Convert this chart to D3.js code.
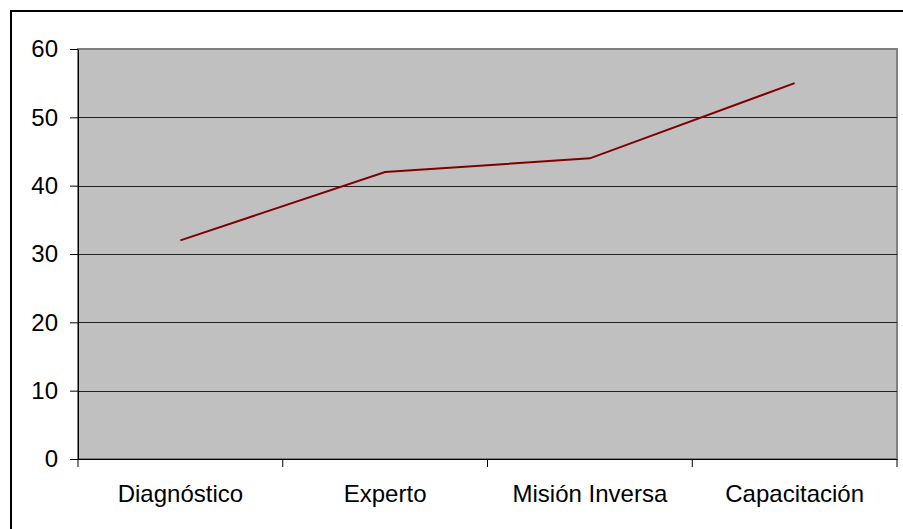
<!DOCTYPE html>
<html lang="es">
<head>
<meta charset="UTF-8">
<title>Chart</title>
<script src="https://d3js.org/d3.v7.min.js"></script>
<style>
    body { margin: 0; background: #fff; }
    svg { display: block; font-family: "Liberation Sans", Arial, sans-serif; }
    .axis text { fill: #000; font-size: 24px; }
    .axis path, .axis line { stroke: #000; }
</style>
</head>
<body>
<svg id="chart" width="903" height="529"></svg>
<script>
    const categories = ["Diagnóstico", "Experto", "Misión Inversa", "Capacitación"];
    const values = [32, 42, 44, 55];
    const yTicks = [0, 10, 20, 30, 40, 50, 60];

    const svg = d3.select("#chart");
    const margin = { top: 49, right: 6, bottom: 70, left: 78 };
    const width = 903 - margin.left - margin.right;
    const height = 529 - margin.top - margin.bottom;

    // outer chart border (right/bottom edges fall outside the window)
    svg.append("rect")
        .attr("x", 11).attr("y", 11)
        .attr("width", 900).attr("height", 530)
        .attr("fill", "#fff").attr("stroke", "#000").attr("stroke-width", 2);

    const g = svg.append("g").attr("transform", `translate(${margin.left},${margin.top})`);

    const x = d3.scaleBand().domain(categories).range([0, width]);
    const y = d3.scaleLinear().domain([0, 60]).range([height, 0]);

    g.append("rect")
        .attr("width", width).attr("height", height)
        .attr("fill", "#c0c0c0")
        .attr("stroke", "#808080").attr("stroke-width", 2);

    g.append("g")
        .selectAll("line")
        .data(yTicks.filter(d => d > 0 && d < 60))
        .join("line")
        .attr("x1", 0).attr("x2", width)
        .attr("y1", d => Math.round(y(d)) + 0.5).attr("y2", d => Math.round(y(d)) + 0.5)
        .attr("stroke", "#222").attr("stroke-width", 1);

    const yAxis = g.append("g").attr("class", "axis")
        .call(d3.axisLeft(y).tickValues(yTicks).tickSize(8).tickPadding(12).tickSizeOuter(0));

    const xAxis = g.append("g").attr("class", "axis")
        .attr("transform", `translate(0,${height})`)
        .call(d3.axisBottom(x).tickSize(0).tickPadding(26));
    // tick marks between categories
    xAxis.selectAll(".sep")
        .data(d3.range(categories.length + 1))
        .join("line")
        .attr("class", "sep")
        .attr("x1", i => i * x.step()).attr("x2", i => i * x.step())
        .attr("y1", 0).attr("y2", 8)
        .attr("stroke", "#000");

    const line = d3.line()
        .x((d, i) => x(categories[i]) + x.bandwidth() / 2)
        .y(d => y(d));

    g.append("path")
        .datum(values)
        .attr("d", line)
        .attr("fill", "none")
        .attr("stroke", "#800000")
        .attr("stroke-width", 2);
</script>
</body>
</html>
